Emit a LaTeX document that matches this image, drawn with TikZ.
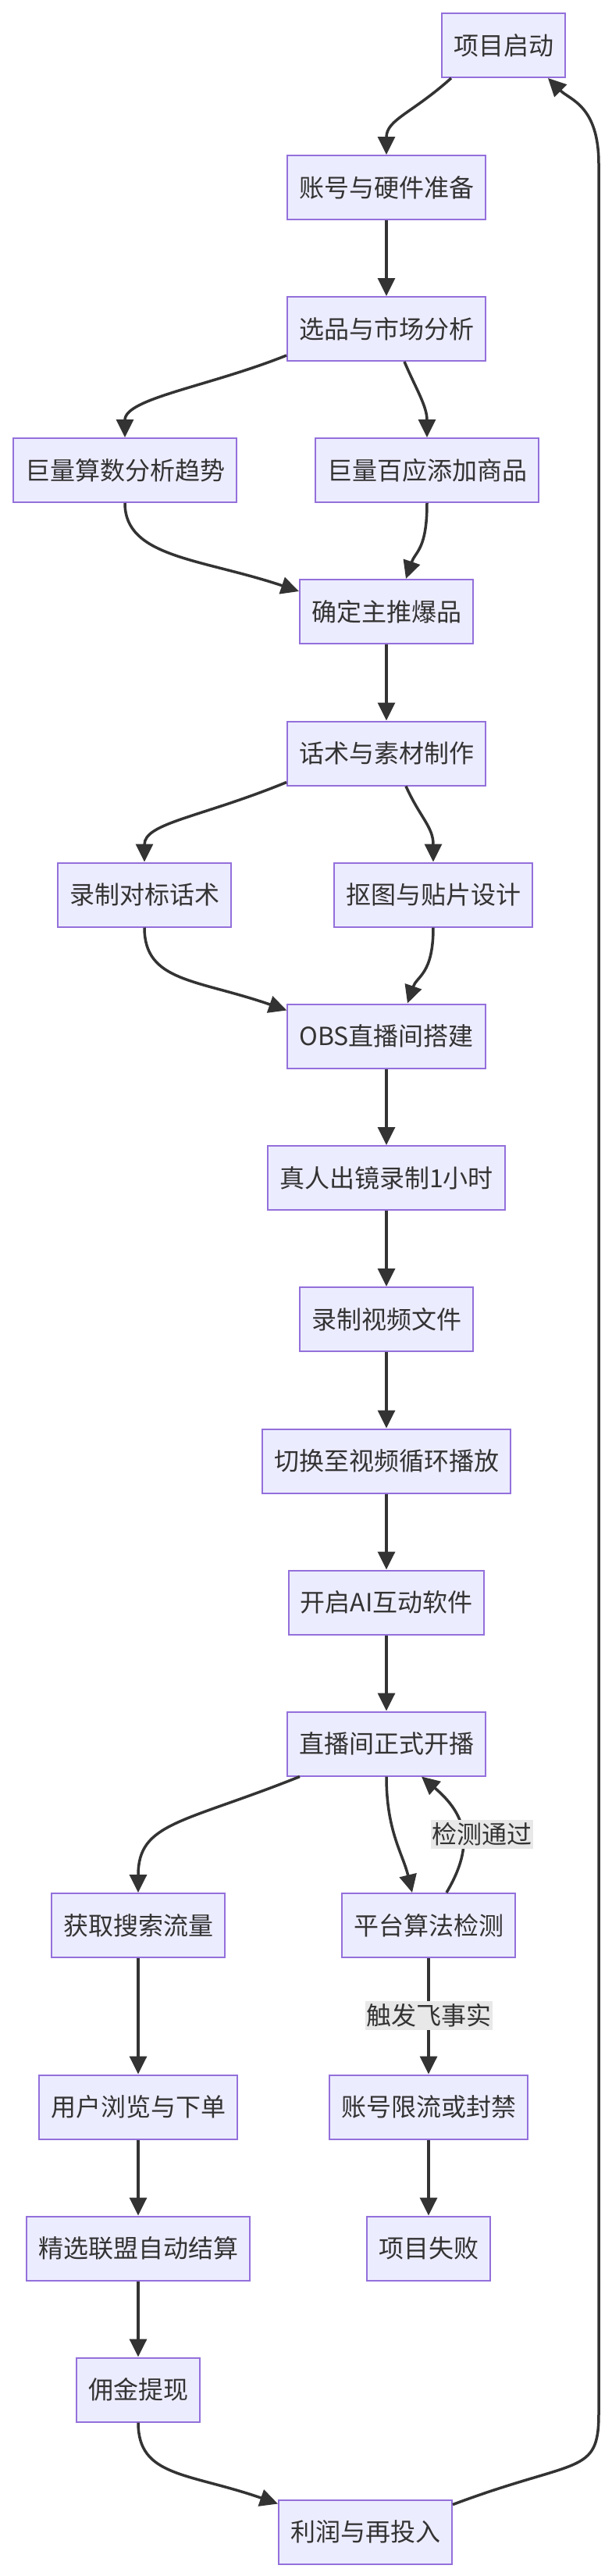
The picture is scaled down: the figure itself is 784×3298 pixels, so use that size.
\documentclass[tikz,border=0pt]{standalone}
\usepackage{fontspec}
\setmainfont{Noto Sans CJK SC}
\usetikzlibrary{arrows.meta}
\definecolor{boxfill}{HTML}{ECECFF}
\definecolor{boxline}{HTML}{9370DB}
\definecolor{edgec}{HTML}{333333}
\definecolor{txtc}{HTML}{333333}
\definecolor{lblbg}{HTML}{E8E8E8}
\tikzset{
  box/.style={draw=boxline, fill=boxfill, line width=2pt, minimum height=82pt,
    inner xsep=15pt, inner ysep=0pt, text=txtc, font=\fontsize{32}{38}\selectfont},
  flow/.style={draw=edgec, line width=3.5pt, -{Triangle[length=23pt,width=22pt]}},
  lbl/.style={fill=lblbg, text=txtc, inner xsep=1.5pt, inner ysep=0pt,
    minimum height=37pt, font=\fontsize{32}{38}\selectfont}
}
\begin{document}
\begin{tikzpicture}[x=1pt,y=-1pt]
\fill[white] (0,0) rectangle (784,3298);
\useasboundingbox (0,0) rectangle (784,3298);

\node[box] (n1) at (645,58) {项目启动};
\node[box] (n2) at (495,240) {账号与硬件准备};
\node[box] (n3) at (495,421) {选品与市场分析};
\node[box] (n4) at (160,602) {巨量算数分析趋势};
\node[box] (n5) at (547,602) {巨量百应添加商品};
\node[box] (n6) at (495,783) {确定主推爆品};
\node[box] (n7) at (495,964.5) {话术与素材制作};
\node[box] (n8) at (185,1145.5) {录制对标话术};
\node[box] (n9) at (555,1145.5) {抠图与贴片设计};
\node[box] (n10) at (495,1326.5) {OBS直播间搭建};
\node[box] (n11) at (495,1508) {真人出镜录制1小时};
\node[box] (n12) at (495,1689) {录制视频文件};
\node[box] (n13) at (495,1870.5) {切换至视频循环播放};
\node[box] (n14) at (495,2051.5) {开启AI互动软件};
\node[box] (n15) at (495,2232.5) {直播间正式开播};
\node[box] (n16) at (177,2465) {获取搜索流量};
\node[box] (n17) at (549,2465) {平台算法检测};
\node[box] (n18) at (177,2697.5) {用户浏览与下单};
\node[box] (n19) at (549,2697.5) {账号限流或封禁};
\node[box] (n20) at (177,2878.5) {精选联盟自动结算};
\node[box] (n21) at (549,2878.5) {项目失败};
\node[box] (n22) at (177,3059.5) {佣金提现};
\node[box] (n23) at (468,3241.5) {利润与再投入};

\coordinate (rb) at (767,3090);
\coordinate (rt) at (767,210);

% edges
\draw[flow] ([xshift=-67pt]n1.south) .. controls +(-50,45) and +(0,-45) .. (n2.north);
\draw[flow] (n2.south) -- (n3.north);
\draw[flow] ([yshift=-34pt]n3.west) .. controls +(-100,40) and +(0,-50) .. (n4.north);
\draw[flow] ([xshift=23pt]n3.south) .. controls +(15,35) and +(0,-40) .. (n5.north);
\draw[flow] (n4.south) .. controls +(0,70) and +(-125,-42) .. ([yshift=26pt]n6.west);
\draw[flow] (n5.south) .. controls +(0,60) and +(12,-35) .. ([xshift=25pt]n6.north);
\draw[flow] (n6.south) -- (n7.north);
\draw[flow] ([yshift=-37pt]n7.west) .. controls +(-110,45) and +(0,-50) .. (n8.north);
\draw[flow] ([xshift=25pt]n7.south) .. controls +(18,40) and +(0,-45) .. (n9.north);
\draw[flow] (n8.south) .. controls +(0,70) and +(-115,-40) .. ([yshift=33pt]n10.west);
\draw[flow] (n9.south) .. controls +(0,60) and +(12,-35) .. ([xshift=27pt]n10.north);
\draw[flow] (n10.south) -- (n11.north);
\draw[flow] (n11.south) -- (n12.north);
\draw[flow] (n12.south) -- (n13.north);
\draw[flow] (n13.south) -- (n14.north);
\draw[flow] (n14.south) -- (n15.north);
\draw[flow] ([xshift=-111pt]n15.south) .. controls +(-150,60) and +(0,-90) .. (n16.north);
\draw[flow] (n15.south) .. controls +(0,70) and +(-12,-50) .. ([xshift=-21pt]n17.north);
\draw[flow] ([xshift=23pt]n17.north) .. controls +(38,-64) and +(55,47) .. ([xshift=45pt]n15.south);
\draw[flow] (n17.south) -- (n19.north);
\draw[flow] (n16.south) -- (n18.north);
\draw[flow] (n18.south) -- (n20.north);
\draw[flow] (n19.south) -- (n21.north);
\draw[flow] (n20.south) -- (n22.north);
\draw[flow] (n22.south) .. controls +(0,70) and +(-115,-40) .. ([yshift=36pt]n23.west);
\draw[flow] ([yshift=35pt]n23.east) .. controls +(160,-60) and +(0,80) .. (rb) -- (rt)
  .. controls +(0,-75) and +(28,28) .. ([xshift=57pt]n1.south);

% edge labels
\node[lbl] (l1) at (617,2348) {检测通过};
\node[lbl] (l2) at (549,2580) {触发飞事实};
\end{tikzpicture}
\end{document}
